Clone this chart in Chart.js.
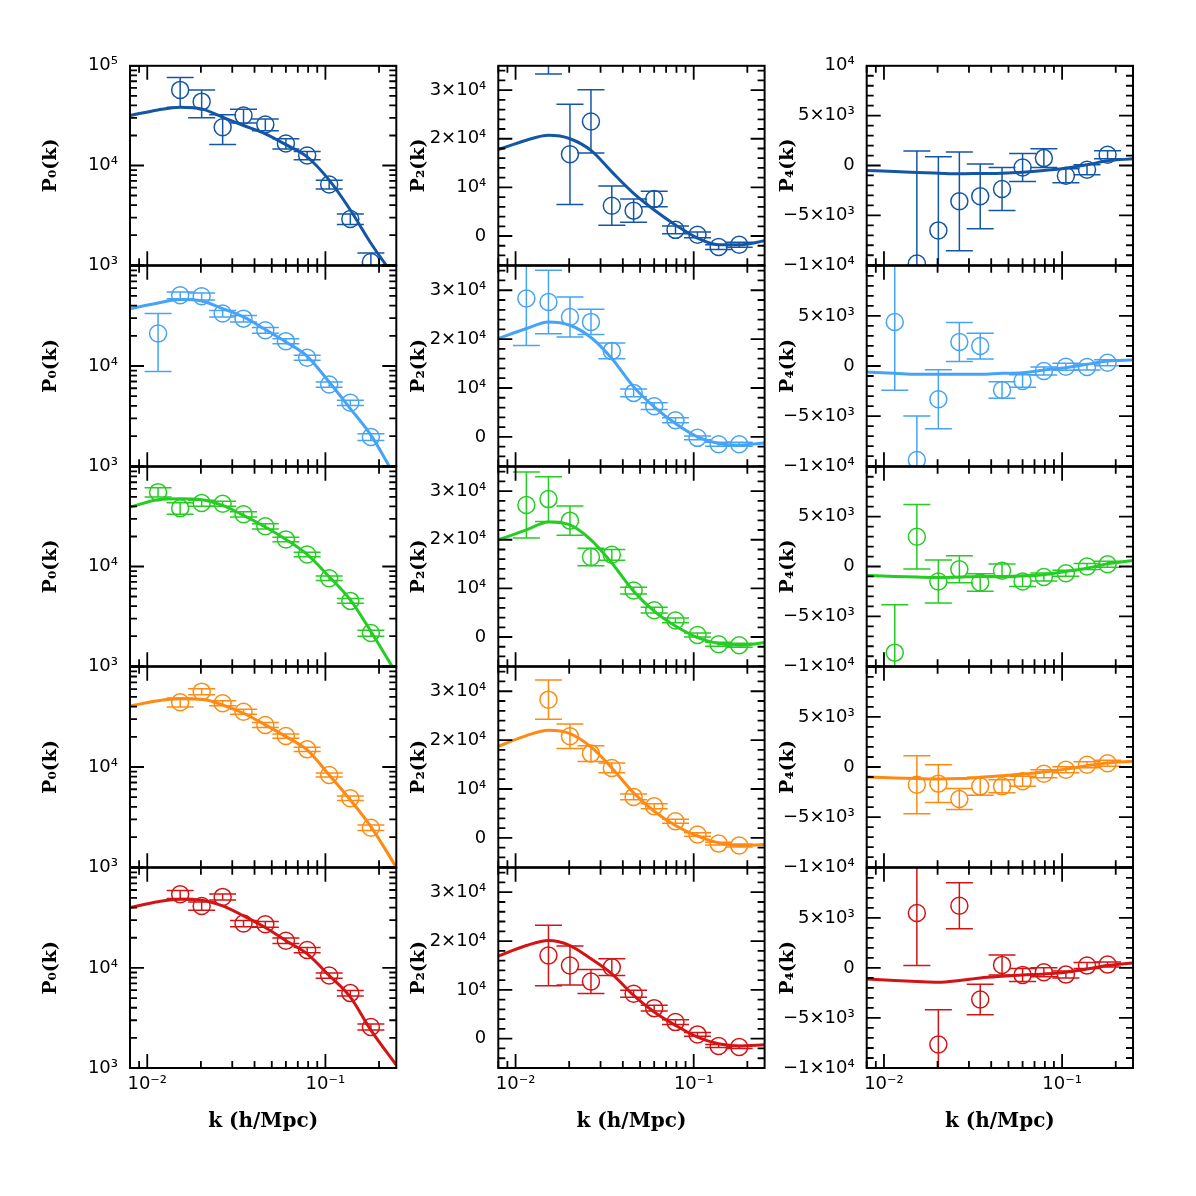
<!DOCTYPE html>
<html><head><meta charset="utf-8">
<script src="https://cdn.jsdelivr.net/npm/chart.js@4.4.1/dist/chart.umd.min.js"></script>
<style>
html,body{margin:0;padding:0;background:#fff;}
#wrap{position:relative;width:1196px;height:1196px;overflow:hidden;background:#fff;}
canvas{position:absolute;}
</style></head><body><div id="wrap"></div>
<script>
// ---------------- data ----------------
const K_BINS  = [0.0115, 0.0153, 0.0202, 0.0265, 0.0347, 0.046, 0.060, 0.079, 0.105, 0.138, 0.180];
const K_MODEL = [0.008, 0.0115, 0.0153, 0.0202, 0.0265, 0.0347, 0.046, 0.060, 0.079, 0.105, 0.138, 0.180, 0.25];

const X_TICKS = [0.01, 0.1];
const X_TICK_LABELS = ['10⁻²', '10⁻¹'];
const X_MINOR = [0.008, 0.009, 0.02, 0.03, 0.04, 0.05, 0.06, 0.07, 0.08, 0.09, 0.2];

const P0_TICKS = [1e3, 1e4, 1e5];
const P0_LABELS = ['10³', '10⁴', '10⁵'];
const P0_MINOR = [2e3, 3e3, 4e3, 5e3, 6e3, 7e3, 8e3, 9e3, 2e4, 3e4, 4e4, 5e4, 6e4, 7e4, 8e4, 9e4];
const P2_TICKS = [0, 1e4, 2e4, 3e4];
const P2_LABELS = ['0', '10⁴', '2×10⁴', '3×10⁴'];
const P2_MINOR = [-6000, -4000, -2000, 2000, 4000, 6000, 8000, 12000, 14000, 16000, 18000, 22000, 24000, 26000, 28000, 32000, 34000];
const P4_TICKS = [-1e4, -5e3, 0, 5e3, 1e4];
const P4_LABELS = ['−1×10⁴', '−5×10³', '0', '5×10³', '10⁴'];
const P4_MINOR = [-9000, -8000, -7000, -6000, -4000, -3000, -2000, -1000, 1000, 2000, 3000, 4000, 6000, 7000, 8000, 9000];

const ROW_COLORS = ['#1456a6', '#47a3f5', '#25cc22', '#ff8a12', '#d41414'];

// monopole P0
const P0_R1 = [null, 57300, 43700, 24200, 31700, 25800, 16600, 12600, 6460, 2910, 1076];
const P0_R1_ERR = [null, 19000, 13600, 8000, 5000, 3500, 2000, 1200, 650, 350, 250];
const P0_R1_MODEL = [31700, 36100, 38400, 37000, 30500, 25200, 20800, 16200, 12200, 7130, 3580, 1660, 720];
const P0_R2 = [21100, 50800, 49600, 33400, 29700, 22700, 17700, 12100, 6530, 4290, 1960];
const P0_R2_ERR = [12300, 4000, 4000, 2500, 2200, 1500, 1000, 700, 400, 250, 150];
const P0_R2_MODEL = [37400, 42600, 46000, 44600, 37400, 30900, 23100, 17400, 12500, 6930, 3760, 2040, 750];
const P0_R3 = [55700, 38500, 43300, 42600, 33400, 25300, 18700, 13200, 7620, 4520, 2150];
const P0_R3_ERR = [6000, 5000, 3000, 2500, 2000, 1500, 1000, 700, 400, 250, 150];
const P0_R3_MODEL = [39400, 46800, 47900, 46800, 41000, 32600, 24900, 18700, 13200, 7900, 4630, 2230, 850];
const P0_R4 = [null, 44300, 56500, 43300, 35600, 26300, 20400, 15000, 8330, 4880, 2480];
const P0_R4_ERR = [null, 4500, 4000, 2500, 2000, 1500, 1000, 700, 400, 250, 150];
const P0_R4_MODEL = [40600, 45900, 48000, 47400, 41600, 34400, 26300, 20100, 14800, 8330, 4690, 2540, 1000];
const P0_R5 = [null, 54400, 41600, 51200, 27800, 27300, 18700, 15100, 8400, 5600, 2570];
const P0_R5_ERR = [null, 5000, 4000, 3500, 2000, 1800, 1200, 900, 500, 350, 180];
const P0_R5_MODEL = [40100, 45900, 48500, 47500, 41600, 33100, 25300, 18700, 13800, 8400, 5110, 2390, 1070];

// quadrupole P2
const P2_R1 = [null, 44000, 16800, 23560, 6240, 5220, 7610, 1270, 245, -2270, -1800];
const P2_R1_ERR = [null, 10700, 10300, 6500, 4050, 2400, 1600, 800, 600, 500, 500];
const P2_R1_MODEL = [17770, 19700, 20700, 20000, 17600, 13200, 8770, 5360, 2290, -430, -1800, -1800, -980];
const P2_R2 = [28300, 27600, 24540, 23520, 17590, 9000, 6280, 3410, -200, -1500, -1500];
const P2_R2_ERR = [9600, 6500, 4100, 2600, 1600, 800, 700, 500, 400, 400, 400];
const P2_R2_MODEL = [20120, 22170, 23520, 22840, 20330, 16030, 10230, 6140, 2730, 0, -1360, -1700, -1230];
const P2_R3 = [27140, 28360, 23930, 16440, 16910, 9550, 5520, 3410, 410, -1490, -1700];
const P2_R3_ERR = [6800, 4600, 3000, 1800, 1100, 700, 600, 500, 400, 400, 400];
const P2_R3_MODEL = [19980, 22020, 23660, 23050, 19980, 15210, 9410, 5320, 2250, -120, -1350, -1700, -1150];
const P2_R4 = [null, 28280, 20780, 17240, 14310, 8380, 6460, 3400, 680, -1170, -1570];
const P2_R4_ERR = [null, 4000, 2500, 1600, 1000, 600, 500, 400, 350, 300, 300];
const P2_R4_MODEL = [18740, 20920, 22010, 21330, 18610, 14310, 9200, 5450, 2520, 340, -1020, -1570, -1370];
const P2_R5 = [null, 17030, 14990, 11720, 14650, 9200, 6260, 3400, 880, -1500, -1700];
const P2_R5_ERR = [null, 6200, 4000, 2450, 1700, 700, 600, 500, 400, 300, 300];
const P2_R5_MODEL = [16900, 19080, 20100, 19080, 16360, 13290, 8860, 5450, 2720, 340, -1020, -1500, -1230];

// hexadecapole P4
const P4_R1 = [null, -9840, -6510, -3590, -3090, -2360, -200, 740, -1030, -430, 1070];
const P4_R1_ERR = [null, 11300, 7400, 4950, 3250, 2150, 1400, 950, 700, 500, 400];
const P4_R1_MODEL = [-500, -600, -700, -770, -830, -800, -770, -670, -500, -270, 70, 470, 670];
const P4_R2 = [4390, -9380, -3320, 2390, 1990, -2390, -1500, -500, -70, -100, 330];
const P4_R2_ERR = [6800, 4400, 2950, 1950, 1280, 830, 630, 400, 350, 300, 300];
const P4_R2_MODEL = [-600, -730, -830, -830, -830, -830, -730, -670, -400, -170, 170, 500, 600];
const P4_R3 = [-8640, 2990, -1500, -270, -1600, -430, -1500, -1060, -670, 0, 230];
const P4_R3_ERR = [4800, 3230, 2150, 1350, 870, 670, 500, 400, 300, 300, 300];
const P4_R3_MODEL = [-900, -1000, -1060, -1100, -1060, -1000, -1000, -930, -830, -500, -170, 270, 600];
const P4_R4 = [null, -1770, -1660, -3190, -1930, -1930, -1430, -670, -270, 230, 370];
const P4_R4_ERR = [null, 2900, 1880, 1050, 900, 650, 500, 400, 300, 300, 300];
const P4_R4_MODEL = [-1000, -1100, -1160, -1200, -1160, -1030, -870, -700, -500, -200, 130, 400, 570];
const P4_R5 = [null, 5490, -7650, 6210, -3160, 300, -700, -430, -670, 230, 330];
const P4_R5_ERR = [null, 5260, 3460, 2300, 1520, 1000, 650, 450, 350, 300, 250];
const P4_R5_MODEL = [-1100, -1260, -1360, -1430, -1260, -1000, -830, -700, -600, -430, -100, 230, 500];

// ---------------- layout ----------------
const COL_LEFT = [130, 498.3, 866.7];
const PW = 266.3;
const ROW_TOP0 = 65;
const PH = 200.6;

const PANELS = [
  [[P0_R1, P0_R1_ERR, P0_R1_MODEL], [P2_R1, P2_R1_ERR, P2_R1_MODEL], [P4_R1, P4_R1_ERR, P4_R1_MODEL]],
  [[P0_R2, P0_R2_ERR, P0_R2_MODEL], [P2_R2, P2_R2_ERR, P2_R2_MODEL], [P4_R2, P4_R2_ERR, P4_R2_MODEL]],
  [[P0_R3, P0_R3_ERR, P0_R3_MODEL], [P2_R3, P2_R3_ERR, P2_R3_MODEL], [P4_R3, P4_R3_ERR, P4_R3_MODEL]],
  [[P0_R4, P0_R4_ERR, P0_R4_MODEL], [P2_R4, P2_R4_ERR, P2_R4_MODEL], [P4_R4, P4_R4_ERR, P4_R4_MODEL]],
  [[P0_R5, P0_R5_ERR, P0_R5_MODEL], [P2_R5, P2_R5_ERR, P2_R5_MODEL], [P4_R5, P4_R5_ERR, P4_R5_MODEL]],
];

const framePlugin = {
  id: 'frameTicks',
  beforeDatasetsDraw(chart) {
    const o = chart.options.plugins.frameTicks;
    const ds = chart.data.datasets[1];
    const ca = chart.chartArea, ctx = chart.ctx;
    const xs = chart.scales.x, ys = chart.scales.y;
    ctx.save();
    ctx.beginPath(); ctx.rect(ca.left, ca.top, ca.right - ca.left, ca.bottom - ca.top); ctx.clip();
    ctx.strokeStyle = o.color; ctx.lineWidth = 1.5;
    ds.data.forEach((p, i) => {
      const e = ds.errs[i];
      const px = xs.getPixelForValue(p.x);
      const yHi = ys.getPixelForValue(p.y + e);
      const lowV = p.y - e;
      const yLo = (o.log && lowV <= 0) ? ca.bottom + 50 : ys.getPixelForValue(lowV);
      ctx.beginPath();
      ctx.moveTo(px, yHi); ctx.lineTo(px, yLo);
      ctx.moveTo(px - 13.5, yHi); ctx.lineTo(px + 13.5, yHi);
      ctx.moveTo(px - 13.5, yLo); ctx.lineTo(px + 13.5, yLo);
      ctx.stroke();
    });
    ctx.restore();
  },
  afterDraw(chart) {
    const o = chart.options.plugins.frameTicks;
    const ca = chart.chartArea, ctx = chart.ctx;
    const xs = chart.scales.x, ys = chart.scales.y;
    ctx.save();
    ctx.strokeStyle = '#000';
    ctx.lineWidth = 1.8;
    ctx.beginPath();
    const xt = (vals, len) => vals.forEach(v => {
      const px = xs.getPixelForValue(v);
      ctx.moveTo(px, ca.bottom); ctx.lineTo(px, ca.bottom - len);
      ctx.moveTo(px, ca.top); ctx.lineTo(px, ca.top + len);
    });
    const yt = (vals, len) => vals.forEach(v => {
      const py = ys.getPixelForValue(v);
      ctx.moveTo(ca.left, py); ctx.lineTo(ca.left + len, py);
      ctx.moveTo(ca.right, py); ctx.lineTo(ca.right - len, py);
    });
    xt(X_TICKS, 14); xt(X_MINOR, 7);
    yt(o.yMajor, 14); yt(o.yMinor, 7);
    ctx.stroke();
    ctx.lineWidth = 2;
    ctx.strokeRect(ca.left, ca.top, ca.right - ca.left, ca.bottom - ca.top);
    ctx.restore();
  }
};

const wrap = document.getElementById('wrap');
const COLS = [
  {ticks: P0_TICKS, labels: P0_LABELS, minor: P0_MINOR, type: 'logarithmic', min: 1e3, max: 1e5, title: 'P₀(k)'},
  {ticks: P2_TICKS, labels: P2_LABELS, minor: P2_MINOR, type: 'linear', min: -6000, max: 35000, title: 'P₂(k)'},
  {ticks: P4_TICKS, labels: P4_LABELS, minor: P4_MINOR, type: 'linear', min: -1e4, max: 1e4, title: 'P₄(k)'},
];

for (let r = 0; r < 5; r++) {
  for (let c = 0; c < 3; c++) {
    const [vals, errs, model] = PANELS[r][c];
    const col = COLS[c];
    const color = ROW_COLORS[r];
    const colLeft = COL_LEFT[c];
    const rowTop = ROW_TOP0 + r * PH;
    const cl = Math.floor(colLeft) - 125;
    const ct = Math.floor(rowTop) - 22;
    const bottomExtra = r === 4 ? 95 : 22;
    const cw = 125 + Math.ceil(PW) + 25;
    const ch = Math.ceil(rowTop + PH + bottomExtra) - ct;
    const yW = colLeft - cl;
    const padTop = rowTop - ct;
    const padRight = cw - yW - PW;
    const xH = ch - padTop - PH;

    const canvas = document.createElement('canvas');
    canvas.width = cw; canvas.height = ch;
    canvas.style.left = cl + 'px'; canvas.style.top = ct + 'px';
    canvas.style.width = cw + 'px'; canvas.style.height = ch + 'px';
    wrap.appendChild(canvas);

    const pts = [], perr = [];
    K_BINS.forEach((k, i) => { if (vals[i] !== null) { pts.push({x: k, y: vals[i]}); perr.push(errs[i]); } });
    const mod = K_MODEL.map((k, i) => ({x: k, y: model[i]}));

    let yTickVals = col.ticks.slice(), yTickLabels = col.labels.slice();
    if (r > 0 && yTickVals[yTickVals.length - 1] === col.max) { yTickVals.pop(); yTickLabels.pop(); }

    const titleFont = {family: "'DejaVu Serif', serif", size: 19, weight: 'bold', lineHeight: 1.2};
    const yTitleCenter = (colLeft - 79) - cl;

    new Chart(canvas, {
      type: 'line',
      data: {
        datasets: [
          {data: mod, borderColor: color, borderWidth: 3, pointRadius: 0, fill: false,
           cubicInterpolationMode: 'monotone', clip: 0, order: 0},
          {data: pts, errs: perr, showLine: false, pointRadius: 8.5, pointStyle: 'circle',
           pointBorderColor: color, pointBackgroundColor: 'rgba(0,0,0,0)', pointBorderWidth: 1.5,
           clip: 0, order: 1}
        ]
      },
      options: {
        responsive: false, animation: false, devicePixelRatio: 1,
        layout: {padding: {left: 0, top: padTop, right: padRight, bottom: 0}},
        plugins: {legend: {display: false}, tooltip: {enabled: false},
          frameTicks: {color: color, yMajor: col.ticks, yMinor: col.minor, log: col.type === 'logarithmic'}},
        scales: {
          x: {type: 'logarithmic', position: 'bottom', min: 0.008, max: 0.25,
              grid: {display: false, drawTicks: false}, border: {display: false},
              ticks: {display: r === 4, padding: 6, color: '#000', maxRotation: 0, autoSkip: false,
                      font: {family: "'DejaVu Sans', sans-serif", size: 18},
                      callback: (v) => { const i = X_TICKS.indexOf(v); return i >= 0 ? X_TICK_LABELS[i] : ''; }},
              afterBuildTicks: (s) => { s.ticks = X_TICKS.map(v => ({value: v})); },
              afterFit: (s) => { s.height = xH; },
              title: {display: r === 4, text: 'k (h/Mpc)', color: '#000', font: {family: "'DejaVu Serif', serif", size: 20, weight: 'bold', lineHeight: 1.2},
                      padding: {top: 0, bottom: (ct + ch - 1122) - 12}}
          },
          y: {type: col.type, position: 'left', min: col.min, max: col.max,
              grid: {display: false, drawTicks: false}, border: {display: false},
              ticks: {padding: 12, color: '#000', autoSkip: false,
                      font: {family: "'DejaVu Sans', sans-serif", size: 18},
                      callback: (v) => { const i = yTickVals.indexOf(v); return i >= 0 ? yTickLabels[i] : ''; }},
              afterBuildTicks: (s) => { s.ticks = yTickVals.map(v => ({value: v})); },
              afterFit: (s) => { s.width = yW; },
              title: {display: true, text: col.title, color: '#000', font: titleFont,
                      padding: {top: yTitleCenter - 19 * 1.2 / 2, bottom: 0}}
          }
        }
      },
      plugins: [framePlugin]
    });
  }
}
</script>
</body></html>
